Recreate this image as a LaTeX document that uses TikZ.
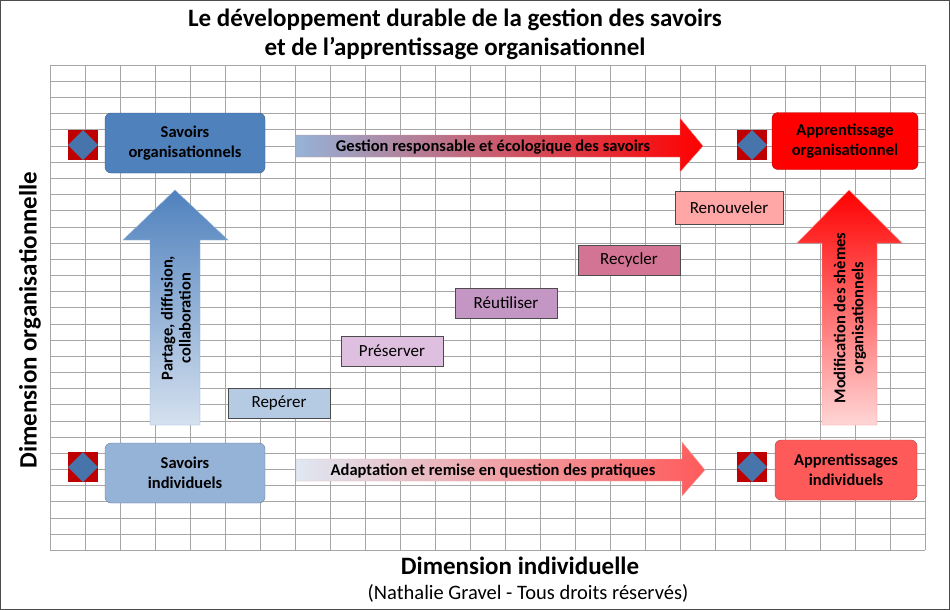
\documentclass[tikz,border=0pt]{standalone}
\usepackage{fontspec}
\setmainfont{Carlito}
\usetikzlibrary{positioning,calc}
\definecolor{bleuF}{RGB}{79,129,189}
\definecolor{bleuC}{RGB}{149,179,215}
\definecolor{rougeF}{RGB}{255,0,0}
\definecolor{rougeC}{RGB}{255,90,90}
\tikzset{
  mainbox/.style={rounded corners=6pt, minimum width=160pt, minimum height=60pt, align=center,
    font=\bfseries\fontsize{16.5}{20}\selectfont, draw=#1!70!black},
  stepbox/.style={draw=black!70, minimum width=102pt, minimum height=30pt, font=\fontsize{17}{20}\selectfont},
  dimlabel/.style={font=\bfseries\fontsize{25}{30}\selectfont},
  arrowtxt/.style={font=\bfseries\fontsize{16.5}{18}\selectfont, align=center},
}
\newcommand{\losange}[1]{%
  \fill[red!75!black] ($(#1)+(-15,-15)$) rectangle ($(#1)+(15,15)$);
  \fill[bleuF!90!black] ($(#1)+(-15,0)$) -- ($(#1)+(0,15)$) -- ($(#1)+(15,0)$) -- ($(#1)+(0,-15)$) -- cycle;}
\begin{document}
\begin{tikzpicture}[x=1pt,y=-1pt]
\useasboundingbox (0,0) rectangle (950,610);
\fill[white] (0,0) rectangle (950,610);
\draw[black!70] (0.5,0.5) rectangle (949.5,609.5);

% grille
\foreach \i in {0,...,25} \draw[gray!70] (50+35*\i,65) -- (50+35*\i,550);
\foreach \j in {0,...,30} \draw[gray!70] (50,65+16.17*\j) -- (925,65+16.17*\j);

% titre
\node[font=\bfseries\fontsize{25}{29}\selectfont, align=center] (titre) at (455,34)
  {Le développement durable de la gestion des savoirs\\et de l'apprentissage organisationnel};

% axes
\node[dimlabel, rotate=90] (dimorg) at (30,320) {Dimension organisationnelle};
\node[dimlabel] (dimind) at (520,566) {Dimension individuelle};
\node[font=\fontsize{20.5}{24}\selectfont] (auteur) at (528,593) {(Nathalie Gravel - Tous droits réservés)};

% fleches horizontales
\shade[left color=bleuC, right color=rougeF, draw=red!60!black!40]
  (296,135) -- (680,135) -- (680,118) -- (703,146) -- (680,172) -- (680,157) -- (296,157) -- cycle;
\node[arrowtxt] (gestion) at (493,147) {Gestion responsable et écologique des savoirs};
\shade[left color=white!70!bleuC, right color=rougeC, draw=red!60!black!30]
  (296,459) -- (682,459) -- (682,442) -- (705,470) -- (682,496) -- (682,481) -- (296,481) -- cycle;
\node[arrowtxt] (adaptation) at (493,471) {Adaptation et remise en question des pratiques};

% fleches verticales
\shade[top color=bleuF, bottom color=white!60!bleuC, draw=bleuF!60]
  (150,425) -- (150,240) -- (123,240) -- (175,190) -- (228,240) -- (200,240) -- (200,425) -- cycle;
\node[arrowtxt, rotate=90] (partage) at (176,318) {Partage, diffusion,\\collaboration};
\shade[top color=rougeF, bottom color=white!75!rougeC, draw=red!40]
  (822,425) -- (822,243) -- (797,243) -- (849,190) -- (902,243) -- (877,243) -- (877,425) -- cycle;
\node[arrowtxt, rotate=90] (modif) at (850,318) {Modification des shèmes\\organisationnels};

% boites principales
\node[mainbox=bleuF, fill=bleuF] (savorg) at (185,143) {Savoirs\\organisationnels};
\node[mainbox=bleuC, fill=bleuC] (savind) at (185,473) {Savoirs\\individuels};
\node[mainbox=rougeF, fill=rougeF, minimum width=146pt, minimum height=57pt] (apporg) at (845,141) {Apprentissage\\organisationnel};
\node[mainbox=rougeC, fill=rougeC, minimum width=142pt] (appind) at (846,470) {Apprentissages\\individuels};

% icones
\losange{83,145}
\losange{83,467}
\losange{752,145}
\losange{752,467}

% etapes
\node[stepbox, fill=bleuC!70!white] (reperer) at (279,403) {Repérer};
\node[stepbox, fill=violet!25!white] (preserver) at (392,351) {Préserver};
\node[stepbox, fill=violet!40!white!90!gray] (reutiliser) at (506,303) {Réutiliser};
\node[stepbox, fill=purple!55!white!90!gray] (recycler) at (629,260) {Recycler};
\node[stepbox, fill=red!35!white, minimum width=108pt, minimum height=33pt] (renouveler) at (729,208) {Renouveler};
\end{tikzpicture}
\end{document}
